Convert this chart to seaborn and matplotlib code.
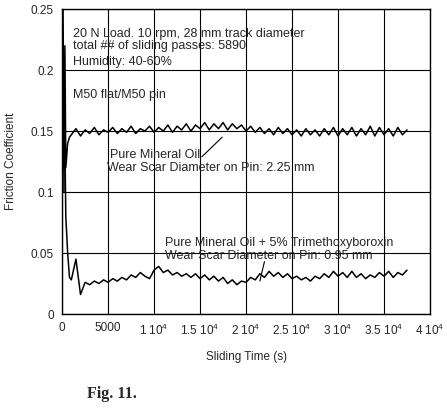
import pandas as pd
import seaborn as sns
import matplotlib
import matplotlib.pyplot as plt

matplotlib.use('Agg')

# sample times (s)
time_s = [0, 100, 200, 300, 400, 600, 800,
          1000, 1500, 2000, 2500, 3000, 3500, 4000, 4500, 5000, 5500,
          6000, 6500, 7000, 7500, 8000, 8500, 9000, 9500, 10000, 10500,
          11000, 11500, 12000, 12500, 13000, 13500, 14000, 14500, 15000, 15500,
          16000, 16500, 17000, 17500, 18000, 18500, 19000, 19500, 20000, 20500,
          21000, 21500, 22000, 22500, 23000, 23500, 24000, 24500, 25000, 25500,
          26000, 26500, 27000, 27500, 28000, 28500, 29000, 29500, 30000, 30500,
          31000, 31500, 32000, 32500, 33000, 33500, 34000, 34500, 35000, 35500,
          36000, 36500, 37000, 37500]

# pure mineral oil
mineral_oil = [0.13, 0.25, 0.10, 0.22, 0.12, 0.14, 0.145,
               0.147, 0.152, 0.146, 0.151, 0.148, 0.153, 0.147, 0.151, 0.149, 0.153,
               0.148, 0.152, 0.149, 0.154, 0.148, 0.152, 0.150, 0.154, 0.149, 0.153,
               0.150, 0.155, 0.149, 0.154, 0.151, 0.156, 0.150, 0.155, 0.152, 0.157,
               0.151, 0.156, 0.152, 0.157, 0.151, 0.156, 0.152, 0.155, 0.150, 0.154,
               0.149, 0.153, 0.148, 0.152, 0.147, 0.153, 0.148, 0.152, 0.147, 0.151,
               0.146, 0.152, 0.147, 0.151, 0.146, 0.152, 0.147, 0.153, 0.146, 0.152,
               0.147, 0.153, 0.146, 0.152, 0.147, 0.154, 0.146, 0.153, 0.147, 0.152,
               0.146, 0.153, 0.147, 0.151]

# pure mineral oil + 5% trimethoxyboroxin
boroxin = [0.20, 0.16, 0.12, 0.14, 0.08, 0.05, 0.03,
           0.028, 0.045, 0.016, 0.026, 0.024, 0.027, 0.025, 0.028, 0.026, 0.029,
           0.027, 0.030, 0.028, 0.032, 0.030, 0.034, 0.031, 0.029, 0.036, 0.039,
           0.034, 0.036, 0.032, 0.034, 0.031, 0.033, 0.030, 0.033, 0.029, 0.032,
           0.028, 0.031, 0.027, 0.030, 0.025, 0.028, 0.024, 0.027, 0.026, 0.030,
           0.028, 0.033, 0.030, 0.035, 0.031, 0.034, 0.030, 0.033, 0.029, 0.031,
           0.028, 0.030, 0.027, 0.031, 0.029, 0.033, 0.030, 0.035, 0.031, 0.034,
           0.030, 0.035, 0.030, 0.033, 0.029, 0.032, 0.030, 0.034, 0.031, 0.035,
           0.030, 0.034, 0.032, 0.036]

x_ticks = [0, 5000, 10000, 15000, 20000, 25000, 30000, 35000, 40000]
x_tick_labels = ['0', '5000', r'1 10$^{4}$', r'1.5 10$^{4}$', r'2 10$^{4}$',
                 r'2.5 10$^{4}$', r'3 10$^{4}$', r'3.5 10$^{4}$', r'4 10$^{4}$']
y_ticks = [0, 0.05, 0.1, 0.15, 0.2, 0.25]
y_tick_labels = ['0', '0.05', '0.1', '0.15', '0.2', '0.25']

df = pd.DataFrame({'t': time_s, 'oil': mineral_oil, 'borox': boroxin})

sns.set_style('white')
plt.rcParams['font.family'] = ['Liberation Sans', 'DejaVu Sans']
plt.rcParams['mathtext.fontset'] = 'custom'
plt.rcParams['mathtext.rm'] = 'Liberation Sans'

fig = plt.figure(figsize=(4.47, 4.17), dpi=100)
ax = fig.add_axes([0.139, 0.247, 0.823, 0.731])

sns.lineplot(data=df, x='t', y='oil', color='black', linewidth=1.1,
             estimator=None, sort=False, ax=ax)
sns.lineplot(data=df, x='t', y='borox', color='black', linewidth=1.1,
             estimator=None, sort=False, ax=ax)

ax.set_xlim(0, 40000)
ax.set_ylim(0, 0.25)
ax.set_xticks(x_ticks)
ax.set_xticklabels(x_tick_labels, fontsize=8.5)
ax.set_yticks(y_ticks)
ax.set_yticklabels(y_tick_labels, fontsize=8.5)
ax.tick_params(length=0, pad=6)
ax.grid(True, color='black', linewidth=0.8)
for s in ax.spines.values():
    s.set_color('black')
    s.set_linewidth(1.0)

ax.set_xlabel('Sliding Time (s)', fontsize=8.5, labelpad=10)
ax.set_ylabel('Friction Coefficient', fontsize=8.5, labelpad=10)

# annotations
fs = 9
ax.text(1200, 0.230, '20 N Load. 10 rpm, 28 mm track diameter', fontsize=fs, va='center')
ax.text(1200, 0.2195, 'total ## of sliding passes: 5890', fontsize=fs, va='center')
ax.text(1200, 0.2065, 'Humidity: 40-60%', fontsize=fs, va='center')
ax.text(1200, 0.180, 'M50 flat/M50 pin', fontsize=fs, va='center')
ax.text(5200, 0.1305, 'Pure Mineral Oil', fontsize=fs, va='center')
ax.text(4900, 0.1195, 'Wear Scar Diameter on Pin: 2.25 mm', fontsize=fs, va='center')
ax.plot([15200, 17400], [0.129, 0.145], color='black', linewidth=0.8)
ax.text(11200, 0.058, 'Pure Mineral Oil + 5% Trimethoxyboroxin', fontsize=fs, va='center')
ax.text(11200, 0.0475, 'Wear Scar Diameter on Pin: 0.95 mm', fontsize=fs, va='center')
ax.plot([22000, 21500], [0.043, 0.027], color='black', linewidth=0.8)

fig.text(0.195, 0.045, 'Fig. 11.', fontsize=11.5, fontweight='bold',
         family=['Liberation Serif', 'DejaVu Serif'])

plt.savefig('out.png', dpi=100)
